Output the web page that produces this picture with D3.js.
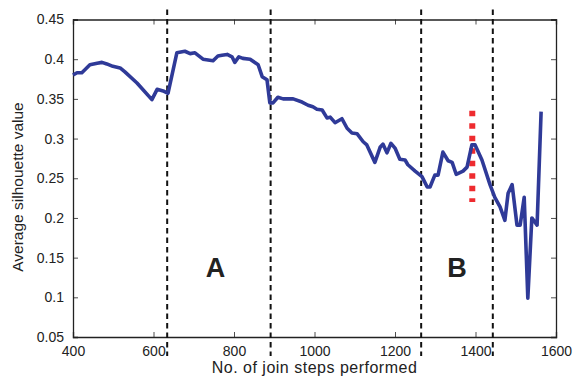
<!DOCTYPE html>
<html>
<head>
<meta charset="utf-8">
<script src="https://cdn.jsdelivr.net/npm/d3@7"></script>
<style>
  body { margin: 0; background: #fff; }
  text { font-family: "Liberation Sans", Arial, sans-serif; fill: #222; }
</style>
</head>
<body>
<script>
// ---------------- DATA ----------------
var steps = [400, 410, 422, 442, 460, 472, 484, 499, 517, 529, 559, 596, 609, 624, 636, 658, 678, 691, 703,
  723, 748, 760, 770, 783, 795, 802, 812, 822, 840, 860, 870, 882, 889, 897, 909, 922, 947, 969, 984,
  996, 1006, 1019, 1031, 1039, 1051, 1068, 1081, 1093, 1106, 1121, 1130, 1150, 1163, 1170, 1180, 1190,
  1200, 1212, 1225, 1232, 1250, 1267, 1280, 1287, 1299, 1307, 1319, 1332, 1342, 1352, 1369, 1379, 1391,
  1399, 1416, 1436, 1448, 1461, 1473, 1481, 1491, 1503, 1511, 1521, 1530, 1540, 1553, 1563]
var silhouette = [0.380, 0.383, 0.383, 0.393, 0.395, 0.396, 0.394, 0.391, 0.389, 0.384, 0.370, 0.349, 0.362,
  0.360, 0.357, 0.408, 0.410, 0.407, 0.408, 0.400, 0.398, 0.404, 0.405, 0.406, 0.403, 0.396, 0.403, 0.401,
  0.400, 0.393, 0.378, 0.374, 0.345, 0.345, 0.352, 0.350, 0.350, 0.346, 0.342, 0.340, 0.337, 0.336, 0.326,
  0.327, 0.320, 0.325, 0.313, 0.307, 0.306, 0.296, 0.292, 0.270, 0.289, 0.293, 0.282, 0.294, 0.288, 0.274,
  0.273, 0.267, 0.259, 0.252, 0.239, 0.239, 0.254, 0.254, 0.283, 0.272, 0.270, 0.255, 0.259, 0.264, 0.292,
  0.292, 0.273, 0.242, 0.226, 0.214, 0.197, 0.231, 0.242, 0.191, 0.191, 0.226, 0.099, 0.200, 0.191, 0.334]

var boundaries = [634, 891, 1265, 1443]
var marker = {step: 1392, from: 0.22, to: 0.335}
var regions = [{label: 'A', step: 754}, {label: 'B', step: 1354}]
var xTicks = [400, 600, 800, 1000, 1200, 1400, 1600]
var yTicks = [0.05, 0.1, 0.15, 0.2, 0.25, 0.3, 0.35, 0.4, 0.45]

// ---------------- SVG ----------------
var width = 574, height = 376
var margin = {top: 19.5, right: 18, bottom: 39, left: 73}
var w = width - margin.left - margin.right
var h = height - margin.top - margin.bottom

var svg = d3.select('body').append('svg')
  .attr('width', width)
  .attr('height', height)

var g = svg.append('g')
  .attr('transform', 'translate(' + margin.left + ',' + margin.top + ')')

var x = d3.scaleLinear().domain([400, 1600]).range([0, w])
var y = d3.scaleLinear().domain([0.05, 0.45]).range([h, 0])

// ---------------- AXES (ticks inside, matlab box) ----------------
var fmtY = function(d) { return String(+d.toFixed(2)) }

g.append('g')
  .attr('transform', 'translate(0,' + h + ')')
  .call(d3.axisBottom(x).tickValues(xTicks).tickSize(-5).tickPadding(9).tickFormat(d3.format('d')))
g.append('g')
  .call(d3.axisTop(x).tickValues(xTicks).tickSize(-5).tickFormat(''))
g.append('g')
  .call(d3.axisLeft(y).tickValues(yTicks).tickSize(-5).tickPadding(9).tickFormat(fmtY))
g.append('g')
  .attr('transform', 'translate(' + w + ',0)')
  .call(d3.axisRight(y).tickValues(yTicks).tickSize(-5).tickFormat(''))

g.selectAll('.domain').attr('stroke', '#222').attr('stroke-width', 1.3)
g.selectAll('.tick line').attr('stroke', '#222').attr('stroke-width', 0.8)
g.selectAll('.tick text').style('font-size', '14px').attr('fill', '#222')

// ---------------- BOUNDARY LINES ----------------
g.selectAll('.boundary')
  .data(boundaries)
  .enter()
  .append('line')
  .attr('class', 'boundary')
  .attr('x1', function(d) { return x(d) })
  .attr('x2', function(d) { return x(d) })
  .attr('y1', -10)
  .attr('y2', h + 19)
  .attr('stroke', '#111')
  .attr('stroke-width', 2)
  .attr('stroke-dasharray', '5.5,4')

// ---------------- RED MARKER ----------------
g.append('line')
  .attr('x1', x(marker.step))
  .attr('x2', x(marker.step))
  .attr('y1', y(marker.to))
  .attr('y2', y(marker.from))
  .attr('stroke', '#ee2b2f')
  .attr('stroke-width', 6)
  .attr('stroke-dasharray', '5.5,7')

// ---------------- SILHOUETTE LINE ----------------
var points = steps.map(function(s, i) { return [s, silhouette[i]] })

g.append('path')
  .datum(points)
  .attr('fill', 'none')
  .attr('stroke', '#2f3a98')
  .attr('stroke-width', 3.6)
  .attr('stroke-linejoin', 'round')
  .attr('d', d3.line()
    .x(function(d) { return x(d[0]) })
    .y(function(d) { return y(d[1]) }))

// ---------------- REGION LABELS ----------------
g.selectAll('.region')
  .data(regions)
  .enter()
  .append('text')
  .attr('class', 'region')
  .attr('x', function(d) { return x(d.step) })
  .attr('y', y(0.126))
  .attr('text-anchor', 'middle')
  .style('font-size', '27px')
  .style('font-weight', 'bold')
  .text(function(d) { return d.label })

// ---------------- AXIS TITLES ----------------
svg.append('text')
  .attr('x', margin.left + w / 2)
  .attr('y', 373)
  .attr('text-anchor', 'middle')
  .style('font-size', '16px')
  .style('letter-spacing', '0.5px')
  .text('No. of join steps performed')

svg.append('text')
  .attr('transform', 'translate(23,187) rotate(-90)')
  .attr('text-anchor', 'middle')
  .style('font-size', '15.5px')
  .text('Average silhouette value')
</script>
</body>
</html>
